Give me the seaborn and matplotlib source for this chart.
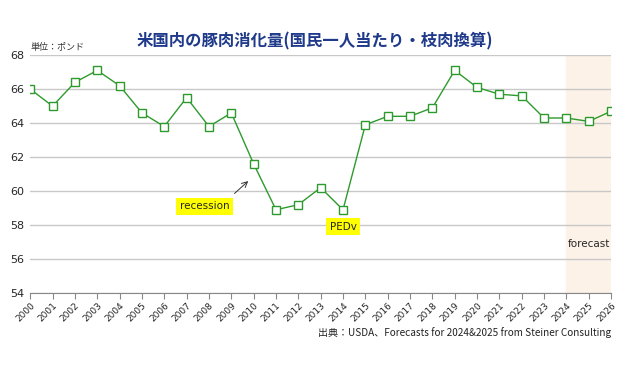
import pandas as pd
import seaborn as sns
import matplotlib.pyplot as plt

# Per-capita pork consumption (lbs, carcass weight)
years = list(range(2000, 2027))
consumption = [66.0, 65.0, 66.4, 67.1, 66.2, 64.6, 63.8, 65.5, 63.8, 64.6,
               61.6, 58.9, 59.2, 60.2, 58.9, 63.9, 64.4, 64.4, 64.9, 67.1,
               66.1, 65.7, 65.6, 64.3, 64.3, 64.1, 64.7]
forecast_start, forecast_end = 2024, 2026
y_ticks = [54, 56, 58, 60, 62, 64, 66, 68]

title = "米国内の豚肉消化量(国民一人当たり・枝肉換算)"
unit_label = "単位：ポンド"
source = "出典：USDA、Forecasts for 2024&2025 from Steiner Consulting"


def main():
    df = pd.DataFrame({'year': years, 'lbs': consumption})

    sns.set_style('white')
    plt.rcParams['font.family'] = ['Noto Sans CJK JP', 'DejaVu Sans']

    fig = plt.figure(figsize=(6.3, 3.7), dpi=100)
    ax = fig.add_axes([0.048, 0.208, 0.922, 0.643])

    # forecast band
    ax.axvspan(forecast_start, forecast_end, color='#fdf2e8', zorder=0)

    sns.lineplot(data=df, x='year', y='lbs', ax=ax, color='#2e9a2e', lw=1.0,
                 marker='s', markersize=6, markerfacecolor='white',
                 markeredgecolor='#2e9a2e', markeredgewidth=1.0, zorder=3)

    ax.set_xlim(2000, 2026)
    ax.set_ylim(54, 68)
    ax.set_xticks(years)
    ax.set_xticklabels([str(y) for y in years], rotation=45, ha='right',
                       rotation_mode='anchor', fontsize=6.5, family='DejaVu Sans')
    ax.set_yticks(y_ticks)
    ax.set_yticklabels([str(v) for v in y_ticks], fontsize=8, family='DejaVu Sans')
    ax.tick_params(axis='y', length=0, pad=4)
    ax.tick_params(axis='x', length=4, color='#888888', direction='out', pad=2, bottom=True)
    ax.grid(axis='y', color='#c8c8c8', lw=1.0)
    ax.set_axisbelow(True)
    for s in ['left', 'right', 'top']:
        ax.spines[s].set_visible(False)
    ax.spines['bottom'].set_color('#888888')
    ax.set_xlabel('')
    ax.set_ylabel('')

    # annotations
    ax.annotate('', xy=(2009.85, 60.7), xytext=(2009.05, 59.75),
                arrowprops=dict(arrowstyle='->', color='#333333', lw=0.7))
    ax.text(2007.8, 59.1, 'recession', fontsize=7.5, ha='center', va='center',
            family='DejaVu Sans',
            bbox=dict(boxstyle='square,pad=0.35', fc='#ffff00', ec='none'))
    ax.text(2014.0, 57.9, 'PEDv', fontsize=7.5, ha='center', va='center',
            family='DejaVu Sans',
            bbox=dict(boxstyle='square,pad=0.35', fc='#ffff00', ec='none'))
    ax.text(2025.0, 56.9, 'forecast', fontsize=7.5, ha='center', va='center',
            family='DejaVu Sans')

    fig.text(0.50, 0.889, title, fontsize=11.8, fontweight='bold', color='#1f3a8a',
             ha='center', va='center')
    fig.text(0.048, 0.872, unit_label, fontsize=6.5, color='#333333',
             ha='left', va='center')
    fig.text(0.970, 0.100, source, fontsize=7.2, color='#222222',
             ha='right', va='center')

    plt.savefig('out.png', dpi=100)


if __name__ == "__main__":
    main()
